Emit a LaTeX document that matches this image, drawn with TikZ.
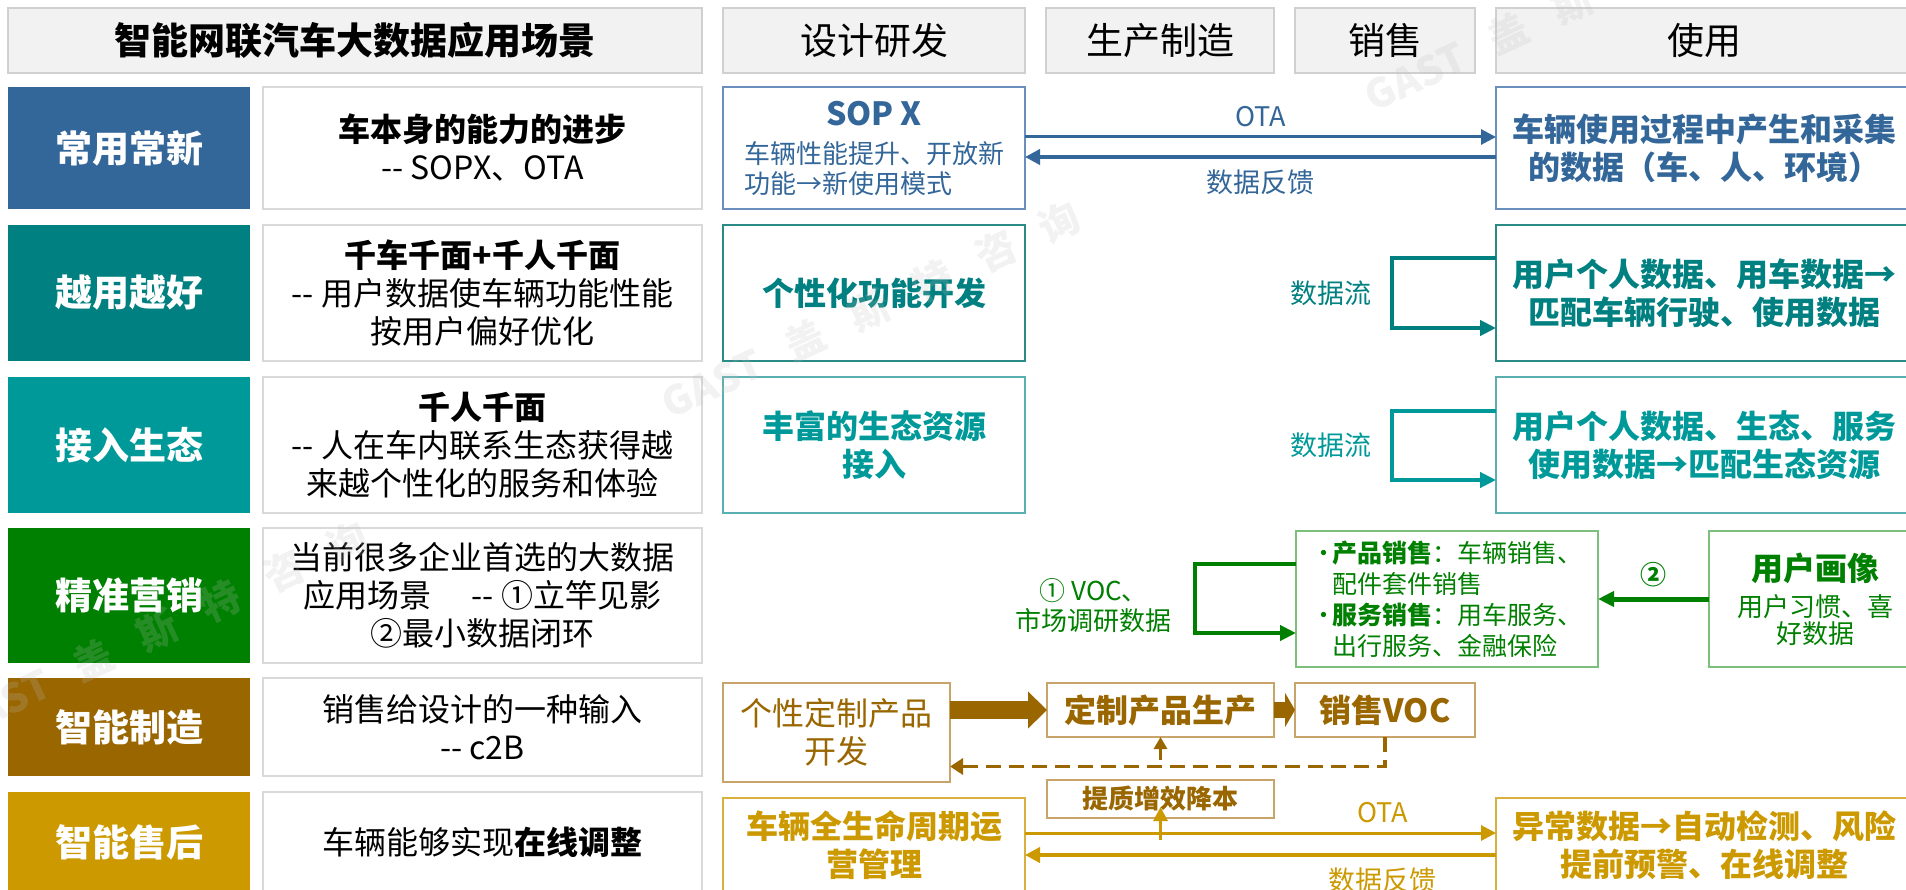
\documentclass[tikz,border=0pt]{standalone}
\usepackage{fontspec}
\setmainfont{Noto Sans CJK SC}
\usepackage{tikz}
\usetikzlibrary{arrows.meta, positioning}

\definecolor{headFill}{HTML}{F2F2F2}
\definecolor{headLine}{HTML}{D0D0D0}
\definecolor{cellLine}{HTML}{D9D9D9}
\definecolor{updateBlue}{HTML}{336699}
\definecolor{updateLine}{HTML}{6A8FBF}
\definecolor{personalTeal}{HTML}{008080}
\definecolor{personalLine}{HTML}{2A8A86}
\definecolor{ecoTeal}{HTML}{009999}
\definecolor{ecoLine}{HTML}{5AB0B0}
\definecolor{marketGreen}{HTML}{008000}
\definecolor{marketLine}{HTML}{7DBF7D}
\definecolor{mfgBrown}{HTML}{996600}
\definecolor{mfgLine}{HTML}{C9A46A}
\definecolor{serviceGold}{HTML}{CC9900}
\definecolor{serviceLine}{HTML}{D9B040}
\definecolor{markGray}{HTML}{BEBEBE}

\newcommand{\fontHead}{\fontsize{37}{44}\selectfont}
\newcommand{\fontBody}{\fontsize{32}{38}\selectfont}
\newcommand{\fontNote}{\fontsize{27}{31}\selectfont}
\newcommand{\fontSmall}{\fontsize{26}{30}\selectfont}
\newcommand{\fontList}{\fontsize{25}{31}\selectfont}
\newcommand{\fontMark}{\fontsize{40}{48}\selectfont}

\tikzset{%
  >={Triangle[length=15pt,width=15pt]},
  % Specifications for style of nodes:
            base/.style = {rectangle, line width=1.5pt, inner sep=0pt, outer sep=0pt,
                           align=center, font=\fontBody},
        headCell/.style = {base, draw=headLine, fill=headFill, minimum height=65pt, font=\fontHead},
        rowLabel/.style = {base, fill=#1, minimum width=242pt, text=white, font=\fontHead\bfseries},
        descCell/.style = {base, draw=cellLine, fill=white, minimum width=439pt},
       stageCell/.style = {base, draw=#1, fill=white},
       watermark/.style = {text=markGray, text opacity=0.2, font=\fontMark\bfseries,
                           rotate=25, inner sep=0pt},
  % Specifications for style of connectors:
        dataLine/.style = {line width=3pt},
        feedLine/.style = {line width=4.5pt},
        flowLine/.style = {line width=4pt, -{Triangle[length=16pt,width=15pt]}},
}

\begin{document}
\begin{tikzpicture}[x=1pt, y=-1pt, node distance=21pt]
  \path[use as bounding box, fill=white] (0,0) rectangle (1906,890);
  \clip (0,0) rectangle (1906,890);

  % header row
  \node (titleHead)     [headCell, minimum width=694pt, font=\fontHead\bfseries, anchor=north west] at (8,8)
                        {智能网联汽车大数据应用场景};
  \node (designHead)    [headCell, minimum width=302pt, right=of titleHead] {设计研发};
  \node (prodHead)      [headCell, minimum width=228pt, right=of designHead] {生产制造};
  \node (salesHead)     [headCell, minimum width=180pt, right=of prodHead] {销售};
  \node (useHead)       [headCell, minimum width=416pt, right=of salesHead] {使用};

  % row 1
  \node (updateLabel)   [rowLabel=updateBlue, minimum height=122pt,
                         below=14pt of titleHead.south west, anchor=north west] {常用常新};
  \node (updateDesc)    [descCell, minimum height=122pt, right=13pt of updateLabel]
                        {\textbf{车本身的能力的进步}\\-{}- SOPX、OTA};
  \node (sopBlock)      [stageCell=updateLine, text=updateBlue, font=\fontSmall, align=left,
                         minimum width=302pt, minimum height=122pt, right=of updateDesc]
                        {\makebox[260pt]{\fontBody\bfseries SOP X}\\[8pt]车辆性能提升、开放新\\功能→新使用模式};
  \node (vehicleData)   [stageCell=updateLine, text=updateBlue, font=\fontBody\bfseries,
                         minimum width=416pt, minimum height=122pt, right=471pt of sopBlock]
                        {车辆使用过程中产生和采集\\的数据（车、人、环境）};

  % row 2
  \node (personalLabel) [rowLabel=personalTeal, minimum height=136pt, below=16pt of updateLabel] {越用越好};
  \node (personalDesc)  [descCell, minimum height=136pt, right=13pt of personalLabel]
                        {\textbf{千车千面+千人千面}\\-{}- 用户数据使车辆功能性能\\按用户偏好优化};
  \node (featureBlock)  [stageCell=personalLine, text=personalTeal, font=\fontBody\bfseries,
                         minimum width=302pt, minimum height=136pt, right=of personalDesc]
                        {个性化功能开发};
  \node (userDataBlock) [stageCell=personalLine, text=personalTeal, font=\fontBody\bfseries,
                         minimum width=416pt, minimum height=136pt, right=471pt of featureBlock]
                        {用户个人数据、用车数据→\\匹配车辆行驶、使用数据};

  % row 3
  \node (ecoLabel)      [rowLabel=ecoTeal, minimum height=136pt, below=16pt of personalLabel] {接入生态};
  \node (ecoDesc)       [descCell, minimum height=136pt, right=13pt of ecoLabel]
                        {\textbf{千人千面}\\-{}- 人在车内联系生态获得越\\来越个性化的服务和体验};
  \node (ecoBlock)      [stageCell=ecoLine, text=ecoTeal, font=\fontBody\bfseries,
                         minimum width=302pt, minimum height=136pt, right=of ecoDesc]
                        {丰富的生态资源\\接入};
  \node (ecoDataBlock)  [stageCell=ecoLine, text=ecoTeal, font=\fontBody\bfseries,
                         minimum width=416pt, minimum height=136pt, right=471pt of ecoBlock]
                        {用户个人数据、生态、服务\\使用数据→匹配生态资源};

  % row 4
  \node (marketLabel)   [rowLabel=marketGreen, minimum height=135pt, below=15pt of ecoLabel] {精准营销};
  \node (marketDesc)    [descCell, minimum height=135pt, right=13pt of marketLabel]
                        {当前很多企业首选的大数据\\应用场景\hspace{40pt}-{}- ①立竿见影\\②最小数据闭环};
  \node (salesBlock)    [stageCell=marketLine, text=marketGreen, font=\fontList, align=left,
                         minimum width=302pt, minimum height=136pt, right=594pt of marketDesc, yshift=-3.5pt]
                        {\makebox[21pt][l]{•}\textbf{产品销售}：车辆销售、\\\hspace*{21pt}配件套件销售\\\makebox[21pt][l]{•}\textbf{服务销售}：用车服务、\\\hspace*{21pt}出行服务、金融保险};
  \node (userProfile)   [stageCell=marketLine, text=marketGreen, font=\fontSmall,
                         minimum width=212pt, minimum height=136pt, right=111pt of salesBlock]
                        {{\fontBody\bfseries 用户画像}\\[6pt]用户习惯、喜\\[-3pt]好数据};

  % row 5
  \node (mfgLabel)      [rowLabel=mfgBrown, minimum height=98pt, below=15pt of marketLabel] {智能制造};
  \node (mfgDesc)       [descCell, minimum height=98pt, right=13pt of mfgLabel]
                        {销售给设计的一种输入\\-{}- c2B};
  \node (customDev)     [stageCell=mfgLine, text=mfgBrown, minimum width=227pt, minimum height=99pt,
                         right=of mfgDesc, yshift=-5.5pt]
                        {个性定制产品\\开发};
  \node (customProd)    [stageCell=mfgLine, text=mfgBrown, font=\fontBody\bfseries, minimum width=227pt,
                         minimum height=54pt, right=97pt of customDev.north east, anchor=north west]
                        {定制产品生产};
  \node (salesVoc)      [stageCell=mfgLine, text=mfgBrown, font=\fontBody\bfseries, minimum width=180pt,
                         minimum height=54pt, right=of customProd]
                        {销售VOC};
  \node (quality)       [stageCell=mfgLine, text=mfgBrown, font=\fontSmall\bfseries, minimum width=227pt,
                         minimum height=38pt, below=43pt of customProd]
                        {提质增效降本};

  % row 6
  \node (serviceLabel)  [rowLabel=serviceGold, minimum height=100pt, below=16pt of mfgLabel] {智能售后};
  \node (serviceDesc)   [descCell, minimum height=100pt, right=13pt of serviceLabel]
                        {车辆能够实现\textbf{在线调整}};
  \node (lifecycleBlock)[stageCell=serviceLine, text=serviceGold, font=\fontBody\bfseries,
                         minimum width=302pt, minimum height=94pt, right=of serviceDesc, yshift=-3pt]
                        {车辆全生命周期运\\营管理};
  \node (anomalyBlock)  [stageCell=serviceLine, text=serviceGold, font=\fontBody\bfseries,
                         minimum width=416pt, minimum height=94pt, right=471pt of lifecycleBlock]
                        {异常数据→自动检测、风险\\提前预警、在线调整};

  % Specification of lines between nodes specified above
  \draw[updateBlue, dataLine, ->] ([yshift=11pt]sopBlock.east) --
        node[midway, yshift=20pt, font=\fontNote] {OTA} ([yshift=11pt]vehicleData.west);
  \draw[updateBlue, feedLine, ->] ([yshift=-9pt]vehicleData.west) --
        node[midway, yshift=-25pt, font=\fontNote] {数据反馈} ([yshift=-9pt]sopBlock.east);

  \draw[personalTeal, flowLine] ([yshift=35pt]userDataBlock.west) -- ++(-104,0) --
        node[midway, left=15pt, font=\fontNote] {数据流} ++(0,70) -- ([yshift=-35pt]userDataBlock.west);
  \draw[ecoTeal, flowLine] ([yshift=34pt]ecoDataBlock.west) -- ++(-104,0) --
        node[midway, left=15pt, font=\fontNote] {数据流} ++(0,69) -- ([yshift=-35pt]ecoDataBlock.west);

  \draw[marketGreen, flowLine] ([yshift=35pt]salesBlock.west) -- ++(-101,0) --
        node[midway, left=18pt, yshift=-7pt, align=center, font=\fontSmall] {① VOC、\\市场调研数据} ++(0,69)
        -- ([yshift=-34pt]salesBlock.west);
  \draw[marketGreen, flowLine, line width=5pt] (userProfile.west) --
        node[midway, yshift=24pt, font=\fontSmall\bfseries] {②} (salesBlock.east);

  \draw[mfgBrown, line width=18pt, -{Triangle[length=19pt,width=36pt]}]
        (customDev.east |- customProd.west) -- (customProd.west);
  \draw[mfgBrown, line width=16pt, -{Triangle[length=10pt,width=34pt]}] (customProd.east) -- (salesVoc.west);
  \draw[mfgBrown, line width=3.5pt, dash pattern=on 15pt off 8pt, -{Triangle[length=13pt,width=16pt]}]
        (salesVoc.south) |- ([yshift=-34pt]customDev.east);
  \draw[mfgBrown, line width=3pt, -{Triangle[length=12pt,width=13pt]}]
        ([yshift=-23pt]customProd.south) -- (customProd.south);

  \draw[serviceGold, dataLine, ->] ([yshift=12pt]lifecycleBlock.east) --
        node[pos=0.76, yshift=20pt, font=\fontNote] {OTA} ([yshift=12pt]anomalyBlock.west);
  \draw[serviceGold, feedLine, ->] ([yshift=-10pt]anomalyBlock.west) --
        node[pos=0.24, yshift=-25pt, font=\fontNote] {数据反馈} ([yshift=-10pt]lifecycleBlock.east);
  \draw[serviceGold, line width=3pt, -{Triangle[length=14pt,width=14pt]}]
        ([yshift=-22pt]quality.south) -- ([yshift=11pt]quality.south);

  % watermark
  \node (markOne)   [watermark] at (1574,3)
                    {GAST\hspace{30pt}盖\hspace{30pt}斯\hspace{30pt}特\hspace{30pt}咨\hspace{30pt}询};
  \node (markTwo)   [watermark] at (871,310)
                    {GAST\hspace{30pt}盖\hspace{30pt}斯\hspace{30pt}特\hspace{30pt}咨\hspace{30pt}询};
  \node (markThree) [watermark] at (159,630)
                    {GAST\hspace{30pt}盖\hspace{30pt}斯\hspace{30pt}特\hspace{30pt}咨\hspace{30pt}询};
\end{tikzpicture}
\end{document}
